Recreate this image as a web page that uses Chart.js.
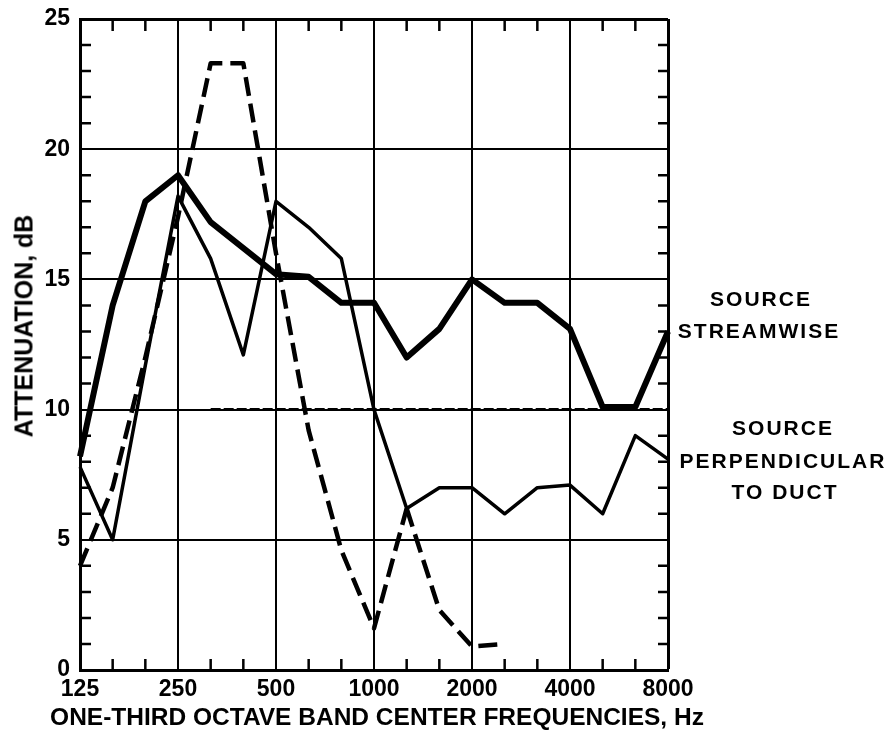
<!DOCTYPE html>
<html>
<head>
<meta charset="utf-8">
<script src="https://cdn.jsdelivr.net/npm/chart.js@4"></script>
<style>
  body{ margin:0; background:#fff; }
  #wrap{ position:relative; width:893px; height:734px; font-family:'Liberation Sans', Arial, sans-serif; font-weight:bold; color:#000; }
  #wrap canvas{ position:absolute; left:0; top:0; }
  .lbl{ position:absolute; white-space:nowrap; transform:translate(-50%,-50%); }
  .note{ font-size:21px; letter-spacing:2px; }
</style>
</head>
<body>
<div id="wrap">
  <canvas id="chart" width="893" height="734"></canvas>
  <div class="lbl" style="left:24px; top:326px; font-size:25px; transform:translate(-50%,-50%) rotate(-90deg);">ATTENUATION, dB</div>
  <div class="lbl" style="left:377px; top:717px; font-size:24.5px;">ONE-THIRD OCTAVE BAND CENTER FREQUENCIES, Hz</div>
  <div class="lbl note" style="left:761px; top:299px;">SOURCE</div>
  <div class="lbl note" style="left:759px; top:331px;">STREAMWISE</div>
  <div class="lbl note" style="left:783px; top:428px;">SOURCE</div>
  <div class="lbl note" style="left:783px; top:461px;">PERPENDICULAR</div>
  <div class="lbl note" style="left:785px; top:492px;">TO DUCT</div>
</div>
<script>
const $ = id => document.getElementById(id);

// one-third octave bands, 125 .. 8000 Hz
const bands = ['125','160','200','250','315','400','500','630','800','1000','1250','1600','2000','2500','3150','4000','5000','6300','8000'];
const streamwise    = [8.2, 14, 18, 19, 17.2, 16.2, 15.2, 15.1, 14.1, 14.1, 12, 13.1, 15, 14.1, 14.1, 13.1, 10.1, 10.1, 13];
const perpendicular = [7.8, 5, 11.7, 18.2, 15.8, 12.1, 18, 17, 15.8, 10, 6.2, 7, 7, 6, 7, 7.1, 6, 9, 8.1];
const dashedA       = [4, 7, 12, 17.4, 23.3, 23.3, 16, 9.2, 4.6, 1.6, 6.2, null, null, null, null, null, null, null, null];
const dashedB       = [null, null, null, null, null, null, null, null, null, null, 6.2, 2.3, 0.9, 1.0, null, null, null, null, null];
const refLevel      = [null, null, null, null, 10, 10, 10, 10, 10, 10, 10, 10, 10, 10, 10, 10, 10, 10, 10];

const line = (data, width, dash=[]) => ({ data, borderColor:'#000', borderWidth:width, borderDash:dash, pointRadius:0, tension:0, fill:false, borderJoinStyle:'round', spanGaps:false });

// small inward tick marks on all four sides of the frame
const minorTicks = {
  id:'minorTicks',
  afterDraw(chart){
    const {ctx, chartArea:a, scales:{x, y}} = chart;
    ctx.save(); ctx.strokeStyle='#000'; ctx.lineWidth=2.5;
    for(let v=1; v<25; v++){ if(v%5===0) continue;
      const py=y.getPixelForValue(v);
      ctx.beginPath(); ctx.moveTo(a.left,py); ctx.lineTo(a.left+11,py); ctx.moveTo(a.right,py); ctx.lineTo(a.right-10,py); ctx.stroke(); }
    for(let i=1; i<bands.length-1; i++){ if(i%3===0) continue;
      const px=x.getPixelForValue(i);
      ctx.beginPath(); ctx.moveTo(px,a.bottom); ctx.lineTo(px,a.bottom-11); ctx.moveTo(px,a.top); ctx.lineTo(px,a.top+12); ctx.stroke(); }
    ctx.restore();
  }
};

new Chart($('chart'), {
  type:'line',
  data:{ labels:bands, datasets:[
    line(streamwise, 6),
    line(perpendicular, 3.5),
    line(dashedA, 4.5, [19,8]),
    line(dashedB, 4.5, [19,8]),
    line(refLevel, 3, [10,3])
  ]},
  options:{
    responsive:false, animation:false, devicePixelRatio:1,
    layout:{ padding:{ left:0, right:225, top:19, bottom:0 } },
    plugins:{ legend:{ display:false }, tooltip:{ enabled:false } },
    scales:{
      x:{ type:'category', offset:false,
        afterFit: s => { s.height = 64; },
        border:{ color:'#000', width:3 },
        grid:{ drawTicks:false, color: c => c.index%3===0 ? '#000' : 'rgba(0,0,0,0)', lineWidth: c => c.index===bands.length-1 ? 3 : 2 },
        ticks:{ autoSkip:false, maxRotation:0, padding:6, color:'#000', font:{ family:"'Liberation Sans', Arial", size:23, weight:'bold' }, callback:(v,i)=> i%3===0 ? bands[i] : '' } },
      y:{ min:0, max:25,
        afterFit: s => { s.width = 80; s.paddingTop = 0; s.paddingBottom = 0; },
        border:{ color:'#000', width:3 },
        grid:{ drawTicks:false, color: c => c.tick.value%5===0 ? '#000' : 'rgba(0,0,0,0)', lineWidth: c => c.tick.value===25 ? 3 : 2 },
        ticks:{ autoSkip:false, stepSize:1, padding:10, color:'#000', font:{ family:"'Liberation Sans', Arial", size:23, weight:'bold', lineHeight:1 }, callback:v => v%5===0 ? v : '' } }
    }
  },
  plugins:[minorTicks]
});
</script>
</body>
</html>
